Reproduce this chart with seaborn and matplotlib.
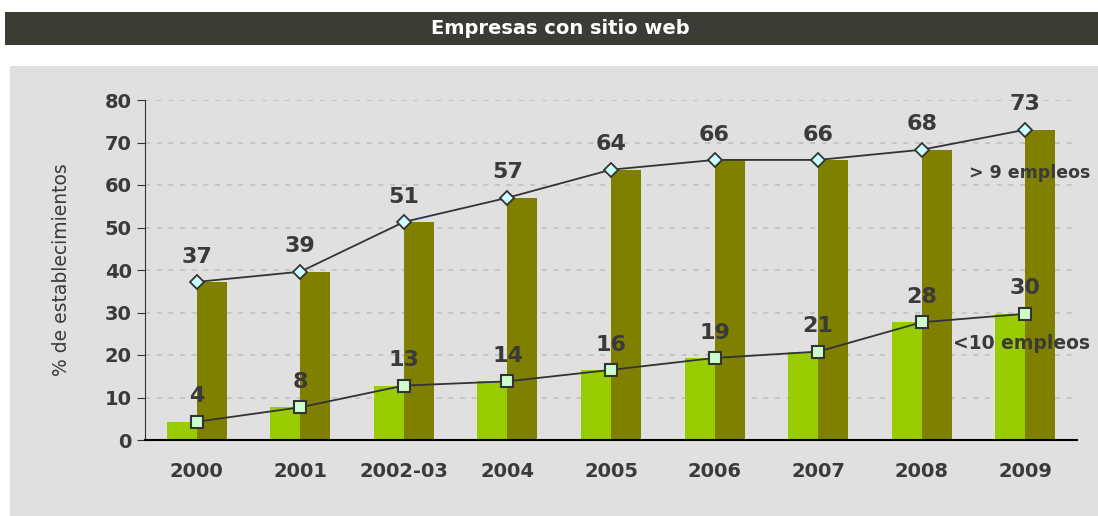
import numpy as np
import pandas as pd
import seaborn as sns
import matplotlib.pyplot as plt
from matplotlib.patches import Rectangle

years = ["2000", "2001", "2002-03", "2004", "2005", "2006", "2007", "2008", "2009"]
small = [4.3, 7.7, 12.8, 13.8, 16.5, 19.3, 20.8, 27.7, 29.7]      # <10 empleos
large = [37.2, 39.6, 51.3, 57.0, 63.6, 65.9, 65.9, 68.3, 73.0]    # > 9 empleos
small_lbl = [4, 8, 13, 14, 16, 19, 21, 28, 30]
large_lbl = [37, 39, 51, 57, 64, 66, 66, 68, 73]

df = pd.DataFrame({
    "anio": years * 2,
    "valor": small + large,
    "grupo": ["<10 empleos"] * len(years) + ["> 9 empleos"] * len(years),
})

sns.set_style("white")
plt.rcParams["font.family"] = ["DejaVu Sans"]
txt = "#3a3a3a"

fig = plt.figure(figsize=(10.98, 5.16), dpi=100)
fig.patch.set_facecolor("white")

# title banner and grey panel
fig.add_artist(Rectangle((5 / 1098, 1 - 45 / 516), 1, 33 / 516, transform=fig.transFigure,
                         facecolor="#3c3c37", edgecolor="none", zorder=0))
fig.add_artist(Rectangle((10 / 1098, 0), 1, 1 - 66 / 516, transform=fig.transFigure,
                         facecolor="#e0e0e0", edgecolor="none", zorder=0))
fig.text(560 / 1098, 1 - 28 / 516, "Empresas con sitio web", color="white",
         fontsize=14, fontweight="bold", ha="center", va="center")

ax = fig.add_axes([145 / 1098, 1 - 440 / 516, 932 / 1098, 340 / 516])
ax.set_facecolor("#e0e0e0")

sns.barplot(data=df, x="anio", y="valor", hue="grupo", palette=["#99cc00", "#808000"],
            width=0.58, saturation=1, legend=False, ax=ax, zorder=2,
            linewidth=0, edgecolor="none")

x = np.arange(len(years))
ax.plot(x, large, color="#333333", lw=1.3, marker="D", ms=7, mfc="#ccffff",
        mec="#333333", mew=1.3, zorder=4)
ax.plot(x, small, color="#333333", lw=1.3, marker="s", ms=9, mfc="#ccffcc",
        mec="#333333", mew=1.5, zorder=4)

for i in x:
    ax.annotate(str(large_lbl[i]), (i, large[i]), xytext=(0, 11), textcoords="offset points",
                ha="center", va="bottom", fontsize=16, color=txt, fontweight="bold")
    ax.annotate(str(small_lbl[i]), (i, small[i]), xytext=(0, 11), textcoords="offset points",
                ha="center", va="bottom", fontsize=16, color=txt, fontweight="bold")

ax.text(1.014, 62.8, "> 9 empleos", transform=ax.get_yaxis_transform(), ha="right",
        va="center", fontsize=12.5, color=txt, fontweight="bold")
ax.text(1.014, 22.8, "<10 empleos", transform=ax.get_yaxis_transform(), ha="right",
        va="center", fontsize=13.5, color=txt, fontweight="bold")

ax.set_xlim(-0.5, len(years) - 0.5)
ax.set_ylim(0, 80)
ax.set_yticks(range(0, 81, 10))
ax.yaxis.grid(True, color="#c0c0c0", ls=(0, (3, 4)), lw=1.2)
ax.set_axisbelow(True)

for s in ["top", "right"]:
    ax.spines[s].set_visible(False)
ax.spines["left"].set_color("#333333")
ax.spines["bottom"].set_color("black")
ax.spines["bottom"].set_linewidth(1.5)

ax.set_xticks(x + 0.5, minor=True)
ax.tick_params(axis="x", which="major", length=0, pad=16, labelsize=14, labelcolor=txt)
ax.tick_params(axis="x", which="minor", length=6, width=1.3, color="black", direction="out")
ax.tick_params(axis="y", length=6, color="#333333", direction="out", labelsize=14,
               labelcolor=txt, left=True)
for lab in ax.get_xticklabels() + ax.get_yticklabels():
    lab.set_fontweight("bold")

ax.set_xlabel("")
ax.set_ylabel("% de establecimientos", fontsize=13.5, color=txt, labelpad=24)

fig.savefig("out.png", dpi=100)
